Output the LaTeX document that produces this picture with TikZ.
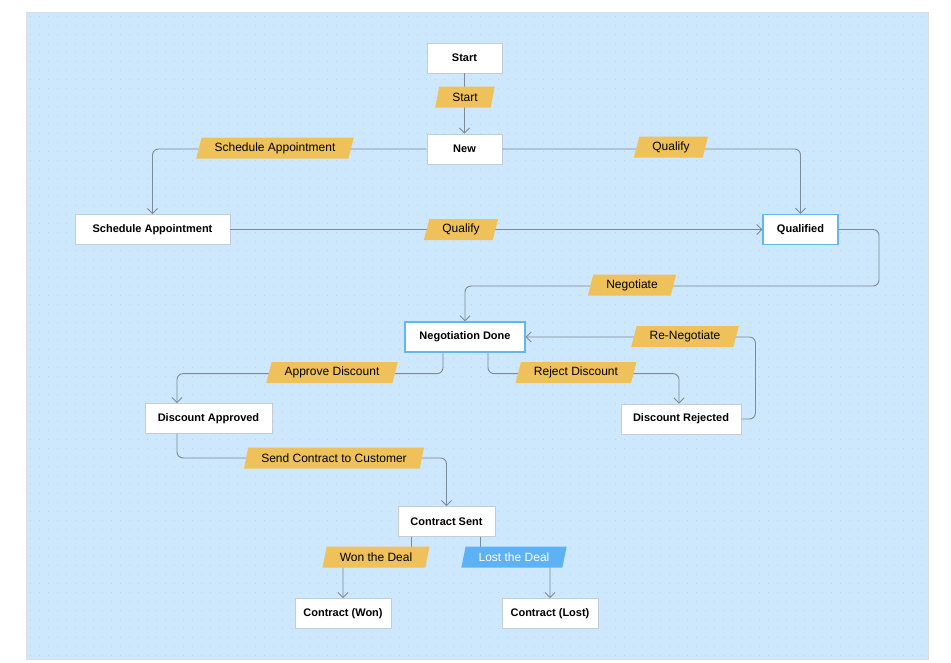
\documentclass[tikz,border=0pt]{standalone}
\usepackage{fontspec}
\setmainfont{Liberation Sans}
\usetikzlibrary{positioning,arrows.meta,shapes.geometric,calc}
\definecolor{bgblue}{HTML}{CDE8FC}
\definecolor{dotblue}{HTML}{B6D5EE}
\definecolor{framegray}{HTML}{DCDFE2}
\definecolor{tagyellow}{HTML}{EEC15A}
\definecolor{tagblue}{HTML}{5DB1F5}
\definecolor{linegray}{HTML}{7D8A97}
\definecolor{boxgray}{HTML}{C5CCD3}
\definecolor{boxblue}{HTML}{62B8EE}
\tikzset{
state/.style={
draw=boxgray,
line width=0.9pt,
fill=white,
minimum height=30pt,
inner xsep=8pt,
font=\fontsize{11}{13}\selectfont\bfseries
},
keystate/.style={
state,
draw=boxblue,
line width=1.3pt
},
tag/.style={
trapezium,
trapezium left angle=64,
trapezium right angle=116,
trapezium stretches body,
fill=tagyellow,
minimum height=21pt,
inner xsep=13pt,
inner ysep=0pt,
font=\fontsize{12}{14}\selectfont
},
losttag/.style={
tag,
fill=tagblue,
text=white
},
arrow/.style={
-{Straight Barb[length=5pt,width=10pt]},
draw=linegray,
line width=0.9pt,
rounded corners=6pt
}
}
\begin{document}
\begin{tikzpicture}[x=1pt,y=-1pt]
\useasboundingbox (0,0) rectangle (951,662);
\fill[bgblue] (26,12) rectangle (928,659);
\foreach \i in {0,...,99}
\foreach \j in {0,...,71}
\fill[dotblue] (30+9*\i,16+9*\j) rectangle ++(1,1);
\draw[framegray,line width=1pt] (26,12) rectangle (928,659);

\node[state,minimum width=75pt](start) at (464.5,58){Start};
\node[state,minimum width=75pt](new) at (464.5,149){New};
\node[state,minimum width=155pt](sched) at (152.5,229.5){Schedule Appointment};
\node[keystate,minimum width=75pt](qual) at (800.5,229.5){Qualified};
\node[keystate,minimum width=120pt](nego) at (465,337){Negotiation Done};
\node[state,minimum width=127pt](dapp) at (208.5,418.5){Discount Approved};
\node[state,minimum width=120pt](drej) at (681,419){Discount Rejected};
\node[state,minimum width=97pt](csent) at (446.5,521.5){Contract Sent};
\node[state,minimum width=96pt](won) at (343,613.5){Contract (Won)};
\node[state,minimum width=96pt](lost) at (550,613.5){Contract (Lost)};

\draw[arrow](start)--(new);
\draw[arrow](new.west)-|(sched.north);
\draw[arrow](new.east)-|(qual.north);
\draw[arrow](sched)--(qual);
\draw[arrow](qual.east)--(879,229.5)--(879,286)-|(nego.north);
\draw[arrow]([xshift=-22pt]nego.south)--++(0,21)-|([xshift=-31.5pt]dapp.north);
\draw[arrow]([xshift=23pt]nego.south)--++(0,21)-|([xshift=-2pt]drej.north);
\draw[arrow](drej.east)--++(14,0)|-(nego.east);
\draw[arrow]([xshift=-31.5pt]dapp.south)--++(0,24)-|(csent.north);
\draw[arrow]([xshift=-35pt]csent.south)--++(0,20)-|(won.north);
\draw[arrow]([xshift=34pt]csent.south)--++(0,20)-|(lost.north);

\node[tag](tstart) at (465,97){Start};
\node[tag](tsched) at (275,148){Schedule Appointment};
\node[tag](tqual) at (671,147){Qualify};
\node[tag](tqual2) at (461,229.5){Qualify};
\node[tag](tnego) at (632,285){Negotiate};
\node[tag](tapp) at (332,372.5){Approve Discount};
\node[tag](trej) at (576,372.5){Reject Discount};
\node[tag](trenego) at (685,336.5){Re-Negotiate};
\node[tag](tsend) at (334,458){Send Contract to Customer};
\node[tag](twon) at (376,557){Won the Deal};
\node[losttag](tlost) at (514,557){Lost the Deal};
\end{tikzpicture}
\end{document}
